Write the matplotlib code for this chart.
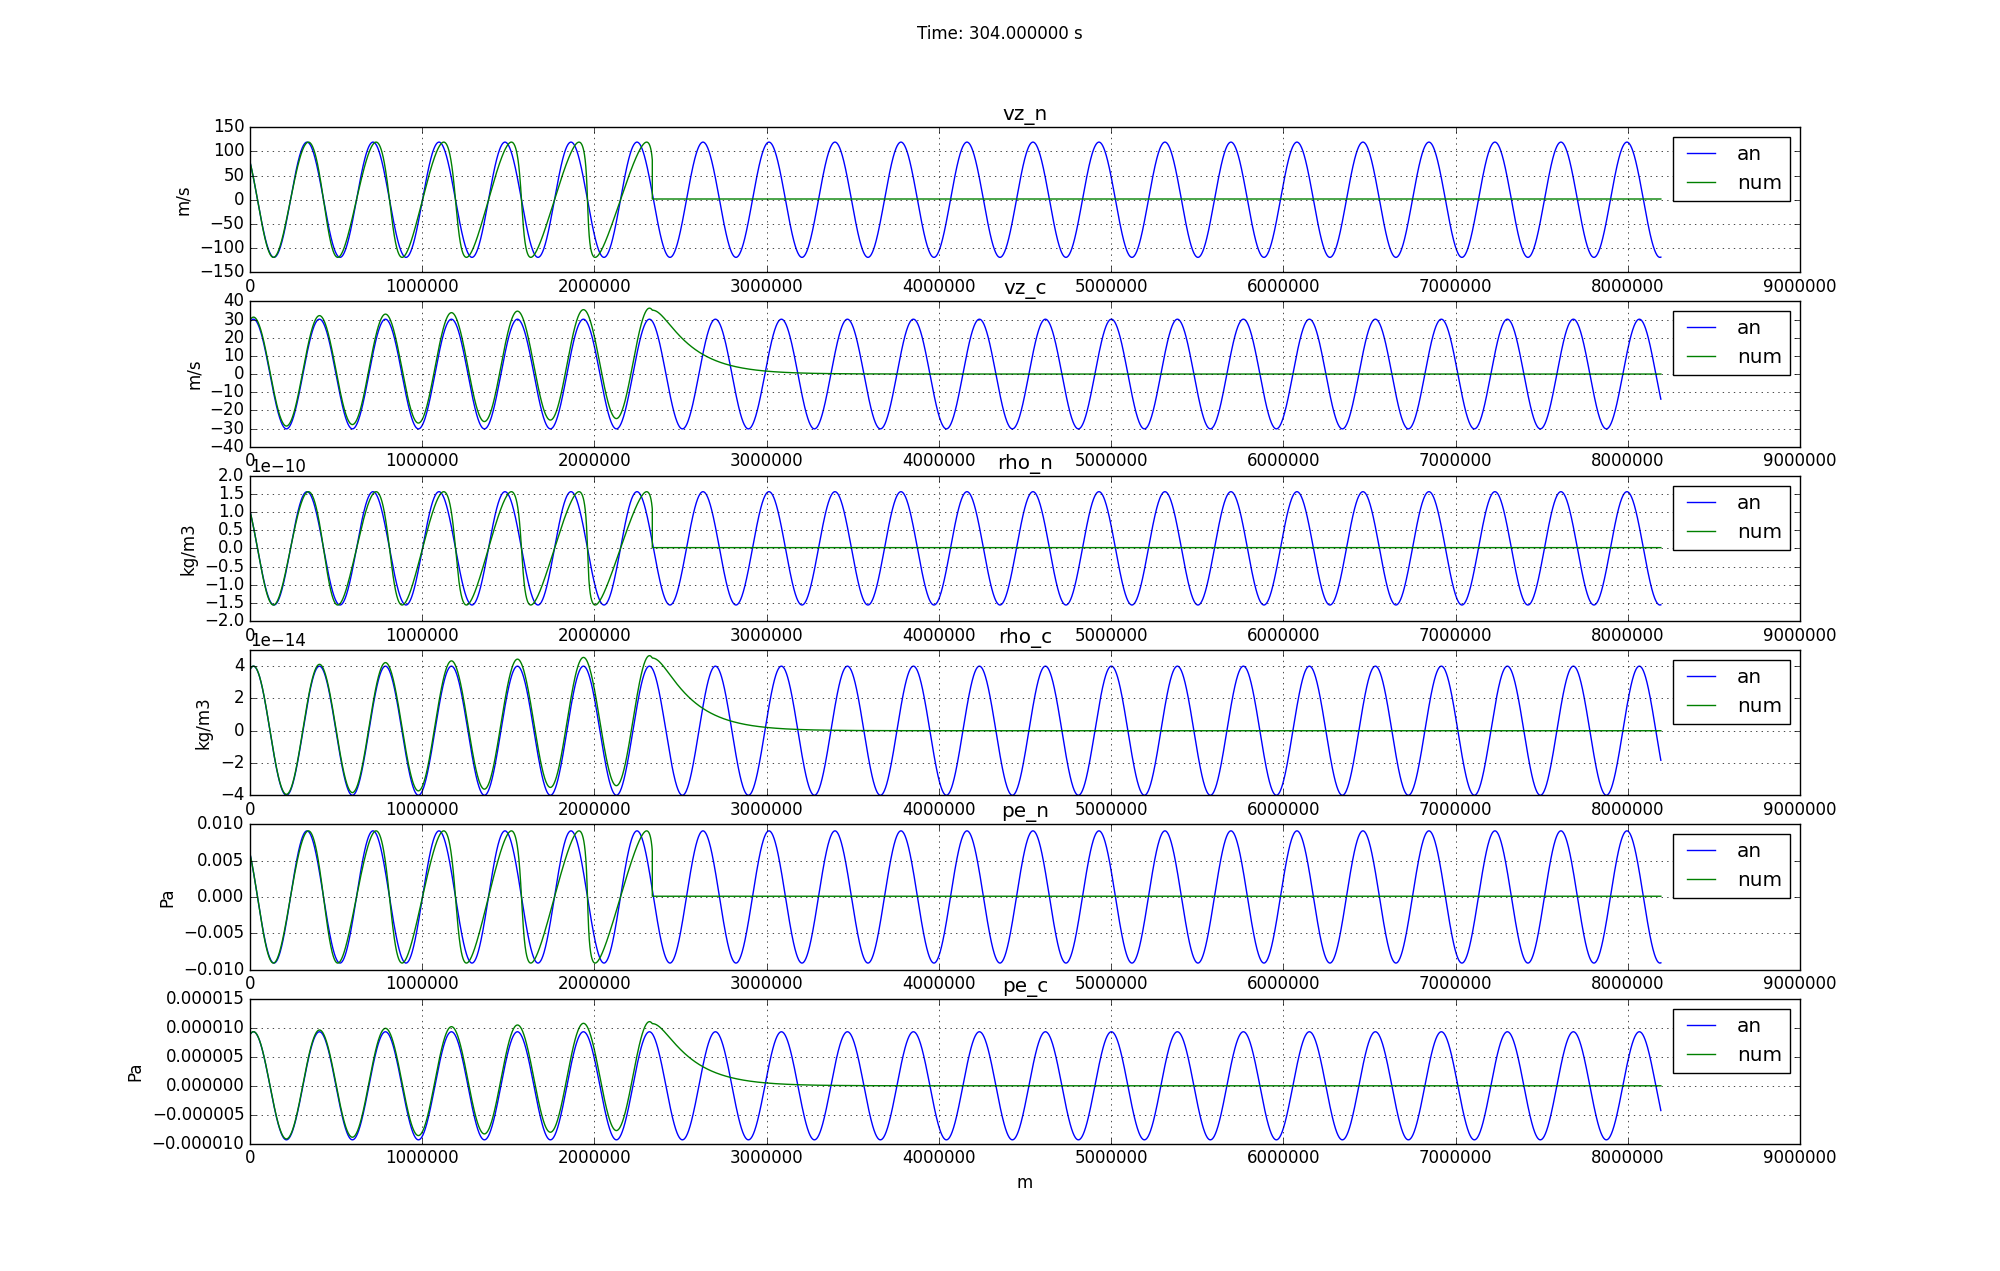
import numpy as np
import matplotlib
matplotlib.use("Agg")
import matplotlib.pyplot as plt

plt.style.use("classic")

# ---------------- data ----------------
panel_titles = ["vz_n", "vz_c", "rho_n", "rho_c", "pe_n", "pe_c"]
y_labels = ["m/s", "m/s", "kg/m3", "kg/m3", "Pa", "Pa"]
is_neutral = [True, False, True, False, True, False]

# analytic wave: amplitude and position of first crest (m)
amplitudes = [119.0, 30.2, 1.56e-10, 4.0e-14, 0.0091, 9.3e-6]
first_crest_x = [0.331e6, 0.02e6, 0.331e6, 0.02e6, 0.331e6, 0.02e6]
wavelength = 0.3832e6
x_end = 8.192e6

# numerical solution features
front_x = 2.336e6                              # position of the numerical front
steepening_rate = [0.025, 0.0, 0.025, 0.0, 0.025, 0.0]   # crest shift per metre (neutral)
flat_level = [1.5, 0.0, 0.02e-10, 0.0, 0.0001, 0.0]     # value ahead of the front
offset_start = [0.0, 1.1, 0.0, 0.0, 0.0, 0.0]            # charged drift at x=0
offset_slope = [0.0, 2.15e-6, 0.0, 0.28e-20, 0.0, 0.75e-12]  # charged drift per metre
tail_length = 0.19e6
tail_round = 0.08e6

y_limits = [(-150, 150), (-40, 40), (-2e-10, 2e-10), (-4e-14, 5e-14),
            (-0.01, 0.01), (-1e-5, 1.5e-5)]
rho_n_ticks = [-2.0e-10, -1.5e-10, -1.0e-10, -0.5e-10, 0.0,
               0.5e-10, 1.0e-10, 1.5e-10, 2.0e-10]
rho_c_ticks = [-4e-14, -2e-14, 0.0, 2e-14, 4e-14]
x_limits = (0, 9e6)
suptitle = "Time: 304.000000 s"

# ---------------- figure ----------------
fig, axes = plt.subplots(6, 1, figsize=(20, 12.71), dpi=100)
fig.patch.set_facecolor("white")
fig.suptitle(suptitle, fontsize=12)

x = np.linspace(0, x_end, 5000)
k = 2 * np.pi / wavelength

for i, ax in enumerate(axes):
    A = amplitudes[i]
    xp = first_crest_x[i]
    an = A * np.cos(k * (x - xp))

    if is_neutral[i]:
        s = np.linspace(0, front_x + 0.2e6, 8000)
        th = k * (s - xp)
        xg = s + steepening_rate[i] * s * np.cos(th)
        yg = A * np.cos(th)
        m = xg <= front_x
        xg = np.concatenate([xg[m], [front_x, front_x, x_end]])
        yg = np.concatenate([yg[m], [flat_level[i], flat_level[i], flat_level[i]]])
    else:
        base = A * np.cos(k * (x - xp)) + offset_start[i] + offset_slope[i] * x
        before = x <= front_x
        P = A * np.cos(k * (front_x - xp)) + offset_start[i] + offset_slope[i] * front_x
        dx = x[~before] - front_x
        tail = P * np.exp(-(np.sqrt(dx ** 2 + tail_round ** 2) - tail_round) / tail_length)
        xg = np.concatenate([x[before], [front_x], x[~before]])
        yg = np.concatenate([base[before], [P], tail + flat_level[i]])

    ax.plot(x, an, color="b", lw=1.0, label="an")
    ax.plot(xg, yg, color="g", lw=1.0, label="num")
    ax.set_xlim(*x_limits)
    ax.set_ylim(*y_limits[i])
    if panel_titles[i] == "rho_n":
        ax.set_yticks(rho_n_ticks)
    if panel_titles[i] == "rho_c":
        ax.set_yticks(rho_c_ticks)
    ax.set_title(panel_titles[i])
    ax.set_ylabel(y_labels[i])
    ax.grid(True)
    ax.legend(loc="upper right")

axes[-1].set_xlabel("m")

fig.savefig("out.png", dpi=100, facecolor="white")
